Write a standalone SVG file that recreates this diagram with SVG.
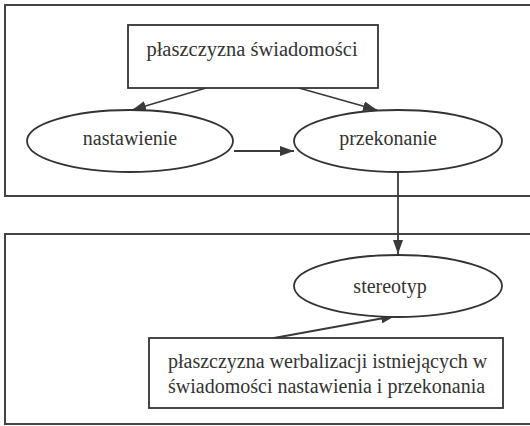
<svg xmlns="http://www.w3.org/2000/svg" width="530" height="426" viewBox="0 0 530 426">
<defs>
<marker id="ah" viewBox="0 0 14 10" refX="14" refY="5" markerWidth="14" markerHeight="10" markerUnits="userSpaceOnUse" orient="auto">
<path d="M0,0 L14,5 L0,10 Z" fill="#3a3a3a"/>
</marker>
</defs>
<style>
.frame{fill:none;stroke:#444;stroke-width:2}
.box{fill:#fff;stroke:#333;stroke-width:1.8}
.ell{fill:#fff;stroke:#333;stroke-width:1.8}
.lbl{font-size:20px;fill:#333}
.c{stroke:#3a3a3a;stroke-width:1.8;fill:none;marker-end:url(#ah)}
</style>
<rect width="530" height="426" fill="#fff"/>
<g id="frame-top"><rect class="frame" x="5" y="5" width="530" height="191"/></g>
<g id="frame-bottom"><rect class="frame" x="5" y="234" width="530" height="190"/></g>
<g id="connectors">
<line class="c" x1="206" y1="88" x2="132" y2="110"/>
<line class="c" x1="299" y1="88" x2="377" y2="110"/>
<line class="c" x1="234" y1="151" x2="294" y2="151"/>
<line class="c" x1="398" y1="172" x2="398" y2="254"/>
<line class="c" x1="274" y1="338" x2="395" y2="316"/>
</g>
<g font-family="'Liberation Serif', 'Times New Roman', 'DejaVu Serif', serif">
<g id="n-swiadomosc">
<rect class="box" x="128" y="25" width="250" height="63"/>
<text class="lbl" x="252" y="56" text-anchor="middle" style="font-size:20.5px">płaszczyzna świadomości</text>
</g>
<g id="n-nastawienie">
<ellipse class="ell" cx="130" cy="141" rx="103" ry="31"/>
<text class="lbl" x="130" y="145" text-anchor="middle">nastawienie</text>
</g>
<g id="n-przekonanie">
<ellipse class="ell" cx="398" cy="141" rx="104" ry="31"/>
<text class="lbl" x="388" y="145" text-anchor="middle">przekonanie</text>
</g>
<g id="n-stereotyp">
<ellipse class="ell" cx="398" cy="286" rx="104" ry="31"/>
<text class="lbl" x="390" y="293" text-anchor="middle">stereotyp</text>
</g>
<g id="n-werbalizacja">
<rect class="box" x="149" y="338" width="354" height="70"/>
<text class="lbl" x="168" y="368">płaszczyzna werbalizacji istniejących w</text>
<text class="lbl" x="168" y="393">świadomości nastawienia i przekonania</text>
</g>
</g>
</svg>
